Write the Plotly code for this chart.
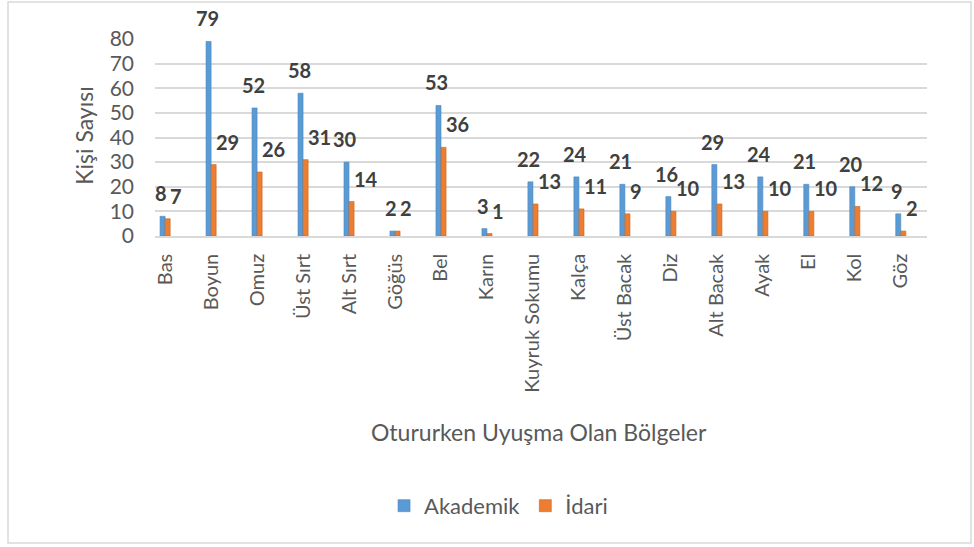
import plotly.graph_objects as go

categories = ["Bas", "Boyun", "Omuz", "Üst Sırt", "Alt Sırt", "Göğüs", "Bel", "Karın",
              "Kuyruk Sokumu", "Kalça", "Üst Bacak", "Diz", "Alt Bacak", "Ayak", "El", "Kol", "Göz"]
akademik = [8, 79, 52, 58, 30, 2, 53, 3, 22, 24, 21, 16, 29, 24, 21, 20, 9]
idari = [7, 29, 26, 31, 14, 2, 36, 1, 13, 11, 9, 10, 13, 10, 10, 12, 2]
y_ticks = [0, 10, 20, 30, 40, 50, 60, 70, 80]

BLUE = "#5B9BD5"
ORANGE = "#ED7D31"
FONT = "Lato"

fig = go.Figure()
fig.add_trace(go.Bar(x=categories, y=akademik, name="Akademik",
                     marker=dict(color=BLUE, line=dict(color="#4A86C0", width=0.6))))
fig.add_trace(go.Bar(x=categories, y=idari, name="İdari",
                     marker=dict(color=ORANGE, line=dict(color="#C8661F", width=0.6))))

annotations = []
for c, v in zip(categories, akademik):
    annotations.append(dict(x=c, y=v, xref="x", yref="y", text=f"<b>{v}</b>", showarrow=False,
                            xanchor="center", yanchor="middle", xshift=-4, yshift=23,
                            font=dict(family=FONT, size=20, color="#404040")))
for c, v in zip(categories, idari):
    annotations.append(dict(x=c, y=v, xref="x", yref="y", text=f"<b>{v}</b>", showarrow=False,
                            xanchor="left", yanchor="middle", xshift=3, yshift=23,
                            font=dict(family=FONT, size=20, color="#404040")))

annotations.append(dict(x=0.497, y=-0.995, xref="paper", yref="paper", text="Otururken Uyuşma Olan Bölgeler",
                        showarrow=False, xanchor="center", yanchor="middle",
                        font=dict(family=FONT, size=23, color="#595959")))
annotations.append(dict(x=-0.093, y=0.51, xref="paper", yref="paper", text="Kişi Sayısı",
                        showarrow=False, xanchor="center", yanchor="middle", textangle=-90,
                        font=dict(family=FONT, size=23, color="#595959")))

fig.update_layout(
    width=974, height=547,
    margin=dict(l=155, r=47, t=39, b=311),
    paper_bgcolor="white", plot_bgcolor="white",
    barmode="group", bargap=0.78, bargroupgap=0,
    font=dict(family=FONT, color="#595959"),
    annotations=annotations,
    showlegend=True,
    legend=dict(orientation="h", x=0.445, xanchor="center", y=-1.37, yanchor="middle",
                font=dict(family=FONT, size=22, color="#595959")),
    shapes=[dict(type="rect", xref="paper", yref="paper", x0=-0.1904, x1=1.057, y0=-1.558, y1=1.188,
                 line=dict(color="#D9D9D9", width=1.5), layer="below")],
)
fig.update_xaxes(type="category", range=[-0.22, 16.57], tickangle=-90,
                 tickfont=dict(family=FONT, size=20, color="#595959"),
                 showgrid=False, showline=True, linecolor="#D9D9D9", linewidth=1.5,
                 ticks="", ticklabelstandoff=8)
fig.update_yaxes(range=[0, 80], tickvals=y_ticks,
                 tickfont=dict(family=FONT, size=21, color="#595959"),
                 showgrid=True, gridcolor="#D9D9D9", gridwidth=1.5,
                 zeroline=False, showline=False, ticks="", ticklabelstandoff=20)

fig.write_html("out.html", config={"displayModeBar": False},
               post_script="document.body.style.margin='0';document.body.style.overflow='hidden';")
